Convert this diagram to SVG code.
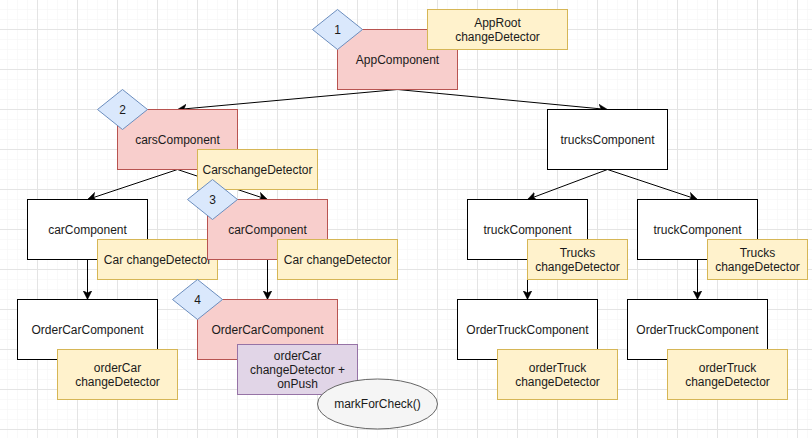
<svg xmlns="http://www.w3.org/2000/svg" width="812" height="438" viewBox="0 0 812 438">
<defs>
<pattern id="minor" width="10" height="10" patternUnits="userSpaceOnUse" x="7" y="9">
<path d="M0,0 H10 M0,0 V10" fill="none" stroke="#f3f3f3" stroke-width="1"/>
</pattern>
<pattern id="major" width="40" height="40" patternUnits="userSpaceOnUse" x="37" y="29">
<path d="M0,0.5 H40 M0.5,0 V40" fill="none" stroke="#e4e4e4" stroke-width="1"/>
</pattern>
<marker id="arr" markerUnits="userSpaceOnUse" markerWidth="12" markerHeight="10" refX="9" refY="4.5" orient="auto">
<path d="M0,0 L9,4.5 L0,9 L2.5,4.5 z" fill="#000" stroke="#000" stroke-width="0.5"/>
</marker>
<style>
text{font-family:"Liberation Sans",Arial,sans-serif;font-size:12px;fill:#1a1a1a;text-anchor:middle}
.w{fill:#ffffff;stroke:#000000;stroke-width:1}
.p{fill:#f8cecc;stroke:#b85450;stroke-width:1}
.y{fill:#fff2cc;stroke:#d6b656;stroke-width:1}
.b{fill:#dae8fc;stroke:#6c8ebf;stroke-width:1}
.v{fill:#e1d5e7;stroke:#9673a6;stroke-width:1}
.g{fill:#f5f5f5;stroke:#666666;stroke-width:1}
.e{fill:none;stroke:#000;stroke-width:1;marker-end:url(#arr)}
</style>
</defs>
<rect width="812" height="438" fill="#ffffff"/>
<rect width="812" height="438" fill="url(#minor)"/>
<rect width="812" height="438" fill="url(#major)"/>

<g id="connectors">
<line class="e" x1="397.5" y1="89.5" x2="177.5" y2="109.5"/>
<line class="e" x1="397.5" y1="89.5" x2="607.5" y2="109.5"/>
<line class="e" x1="177.5" y1="169.5" x2="87.5" y2="199.5"/>
<line class="e" x1="177.5" y1="169.5" x2="267.5" y2="199.5"/>
<line class="e" x1="87.5" y1="259.5" x2="87.5" y2="299.5"/>
<line class="e" x1="267.5" y1="259.5" x2="267.5" y2="299.5"/>
<line class="e" x1="607.5" y1="169.5" x2="527.5" y2="199.5"/>
<line class="e" x1="607.5" y1="169.5" x2="697.5" y2="199.5"/>
<line class="e" x1="527.5" y1="259.5" x2="527.5" y2="299.5"/>
<line class="e" x1="697.5" y1="259.5" x2="697.5" y2="299.5"/>
</g>

<g id="appComponent">
<rect class="p" x="337.5" y="29.5" width="120" height="60"/>
<text x="397.5" y="64">AppComponent</text>
</g>
<g id="badge1">
<polygon class="b" points="337.5,9.5 362.5,29.5 337.5,49.5 312.5,29.5"/>
<text x="337.5" y="34">1</text>
</g>
<g id="appRootCD">
<rect class="y" x="427.5" y="9.5" width="140" height="40"/>
<text x="497.5" y="27">AppRoot</text>
<text x="497.5" y="41">changeDetector</text>
</g>

<g id="carsComponent">
<rect class="p" x="117.5" y="109.5" width="120" height="60"/>
<text x="177.5" y="144">carsComponent</text>
</g>
<g id="badge2">
<polygon class="b" points="122.5,89.5 147.5,109.5 122.5,129.5 97.5,109.5"/>
<text x="122.5" y="114">2</text>
</g>
<g id="carsCD">
<rect class="y" x="197.5" y="149.5" width="120" height="40"/>
<text x="257.5" y="174">CarschangeDetector</text>
</g>

<g id="trucksComponent">
<rect class="w" x="547.5" y="109.5" width="120" height="60"/>
<text x="607.5" y="144">trucksComponent</text>
</g>

<g id="carComponentLeft">
<rect class="w" x="27.5" y="199.5" width="120" height="60"/>
<text x="87.5" y="234">carComponent</text>
</g>
<g id="carCDLeft">
<rect class="y" x="97.5" y="239.5" width="120" height="40"/>
<text x="157.5" y="264">Car changeDetector</text>
</g>

<g id="carComponentRight">
<rect class="p" x="207.5" y="199.5" width="120" height="60"/>
<text x="267.5" y="234">carComponent</text>
</g>
<g id="badge3">
<polygon class="b" points="212.5,179.5 237.5,199.5 212.5,219.5 187.5,199.5"/>
<text x="212.5" y="204">3</text>
</g>
<g id="carCDRight">
<rect class="y" x="277.5" y="239.5" width="120" height="40"/>
<text x="337.5" y="264">Car changeDetector</text>
</g>

<g id="truckComponentLeft">
<rect class="w" x="467.5" y="199.5" width="120" height="60"/>
<text x="527.5" y="234">truckComponent</text>
</g>
<g id="trucksCDLeft">
<rect class="y" x="527.5" y="239.5" width="100" height="40"/>
<text x="577.5" y="257">Trucks</text>
<text x="577.5" y="271">changeDetector</text>
</g>

<g id="truckComponentRight">
<rect class="w" x="637.5" y="199.5" width="120" height="60"/>
<text x="697.5" y="234">truckComponent</text>
</g>
<g id="trucksCDRight">
<rect class="y" x="707.5" y="239.5" width="100" height="40"/>
<text x="757.5" y="257">Trucks</text>
<text x="757.5" y="271">changeDetector</text>
</g>

<g id="orderCarLeft">
<rect class="w" x="17.5" y="299.5" width="140" height="60"/>
<text x="87.5" y="334">OrderCarComponent</text>
</g>
<g id="orderCarCDLeft">
<rect class="y" x="57.5" y="349.5" width="120" height="50"/>
<text x="117.5" y="372">orderCar</text>
<text x="117.5" y="386">changeDetector</text>
</g>

<g id="orderCarRight">
<rect class="p" x="197.5" y="299.5" width="140" height="60"/>
<text x="267.5" y="334">OrderCarComponent</text>
</g>
<g id="badge4">
<polygon class="b" points="197.5,279.5 222.5,299.5 197.5,319.5 172.5,299.5"/>
<text x="197.5" y="304">4</text>
</g>
<g id="orderCarCDOnPush">
<rect class="v" x="237.5" y="344.5" width="120" height="50"/>
<text x="297.5" y="360">orderCar</text>
<text x="297.5" y="374">changeDetector +</text>
<text x="297.5" y="388">onPush</text>
</g>
<g id="markForCheck">
<ellipse class="g" cx="377.5" cy="404" rx="60" ry="25"/>
<text x="377.5" y="408">markForCheck()</text>
</g>

<g id="orderTruckLeft">
<rect class="w" x="457.5" y="299.5" width="140" height="60"/>
<text x="527.5" y="334">OrderTruckComponent</text>
</g>
<g id="orderTruckCDLeft">
<rect class="y" x="497.5" y="349.5" width="120" height="50"/>
<text x="557.5" y="372">orderTruck</text>
<text x="557.5" y="386">changeDetector</text>
</g>

<g id="orderTruckRight">
<rect class="w" x="627.5" y="299.5" width="140" height="60"/>
<text x="697.5" y="334">OrderTruckComponent</text>
</g>
<g id="orderTruckCDRight">
<rect class="y" x="667.5" y="349.5" width="120" height="50"/>
<text x="727.5" y="372">orderTruck</text>
<text x="727.5" y="386">changeDetector</text>
</g>
</svg>
